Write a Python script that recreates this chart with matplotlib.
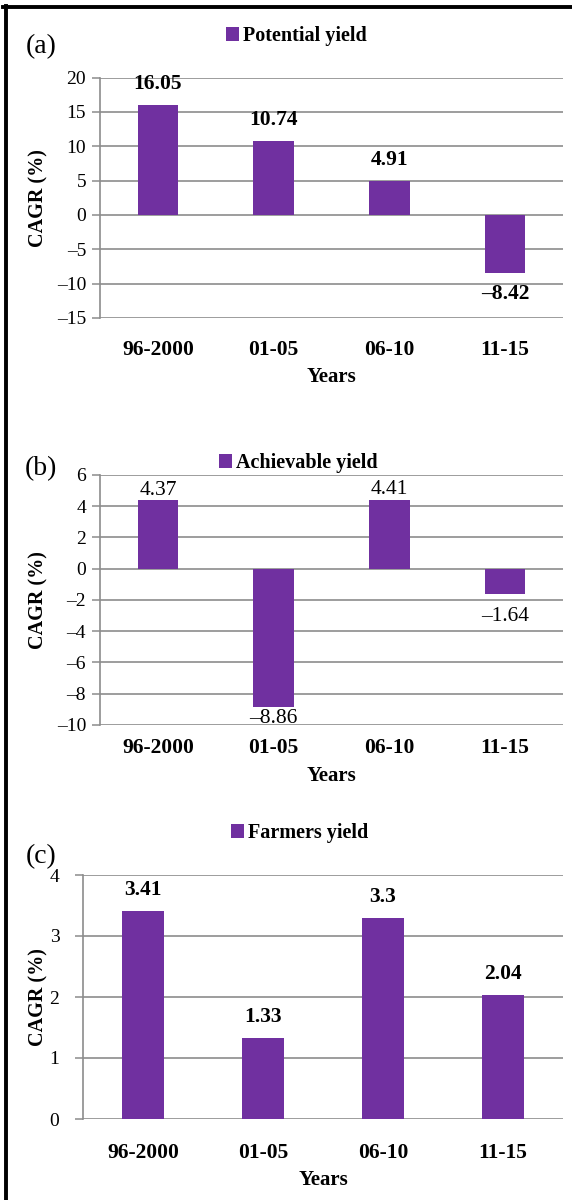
import matplotlib
matplotlib.use("Agg")
import matplotlib.pyplot as plt
from matplotlib.lines import Line2D

plt.rcParams['font.family'] = ['Liberation Serif', 'DejaVu Serif']

categories = ["96-2000", "01-05", "06-10", "11-15"]
potential = [16.05, 10.74, 4.91, -8.42]
achievable = [4.37, -8.86, 4.41, -1.64]
farmers = [3.41, 1.33, 3.3, 2.04]

ticks_a = [-15, -10, -5, 0, 5, 10, 15, 20]
ticks_b = [-10, -8, -6, -4, -2, 0, 2, 4, 6]
ticks_c = [0, 1, 2, 3, 4]

BAR = "#7030A0"
GRID = "#8c8c8c"
W, H = 572, 1200
fig = plt.figure(figsize=(W / 100, H / 100), dpi=100)


def fmt(v):
    s = f"{v:g}"
    return s.replace("-", "\u2013")


def panel(rect_px, values, ticks, name, letter, leg_xy, letter_xy, bold_vals,
          offsets, xt_pad, years_y, ylab_x, ytick_pad):
    left, right, top, bottom = rect_px
    ax = fig.add_axes([left / W, 1 - bottom / H, (right - left) / W, (bottom - top) / H])
    x = range(len(categories))
    ax.bar(x, values, width=0.35, color=BAR, zorder=3, label=name)
    ax.set_xlim(-0.5, len(categories) - 0.5)
    ax.set_ylim(ticks[0], ticks[-1])
    ax.set_yticks(ticks)
    ax.set_yticklabels([fmt(t) for t in ticks], fontsize=14)
    ax.set_xticks(list(x))
    ax.set_xticklabels(categories, fontsize=15.5, fontweight='bold')
    ax.tick_params(axis='x', length=0, pad=xt_pad)
    ax.tick_params(axis='y', length=6, width=1.1, color=GRID, pad=ytick_pad)
    for s in ['top', 'right', 'bottom']:
        ax.spines[s].set_visible(False)
    ax.spines['left'].set_color(GRID)
    ax.spines['left'].set_linewidth(1.2)
    ax.grid(axis='y', color=GRID, linewidth=1.2, zorder=0)
    ax.set_axisbelow(True)
    ax.set_xlabel("Years", fontsize=15, fontweight='bold')
    ax.xaxis.set_label_coords(0.5, -(years_y - bottom) / (bottom - top))
    ax.xaxis.label.set_va('center')
    ax.set_ylabel("CAGR (%)", fontsize=14.5, fontweight='bold')
    ax.yaxis.set_label_coords((ylab_x - left) / (right - left), 0.5)
    ax.yaxis.label.set_va('center')
    for i, v in enumerate(values):
        ax.annotate(fmt(v), (i, v), xytext=(0, offsets[i]), textcoords='offset pixels',
                    ha='center', va='center', fontsize=15.5,
                    fontweight='bold' if bold_vals else 'normal', zorder=4)
    ax.legend(loc='center', bbox_to_anchor=(leg_xy[0] / W, 1 - leg_xy[1] / H),
              bbox_transform=fig.transFigure, frameon=False,
              handlelength=0.65, handleheight=0.65, handletextpad=0.2,
              prop={'weight': 'bold', 'size': 14.5})
    fig.text(letter_xy[0] / W, 1 - letter_xy[1] / H, letter, fontsize=20,
             ha='center', va='center')
    return ax


panel((100, 563, 77.5, 318), potential, ticks_a, "Potential yield", "(a)",
      (296, 36), (41, 47), True,
      [21 if v > 0 else -21 for v in potential], 16, 377, 38, 4)
panel((100, 563, 475, 725), achievable, ticks_b, "Achievable yield", "(b)",
      (298, 463), (41, 469), False,
      [10, -11, 10, -22], 9.5, 776, 38, 4)
panel((83, 563, 875, 1119), farmers, ticks_c, "Farmers yield", "(c)",
      (300, 833), (41, 857), True,
      [21, 21, 21, 21], 17, 1180, 38, 11)

# frame lines (top and left border)
fig.add_artist(Line2D([3 / W, 1], [1 - 7 / H, 1 - 7 / H], color='black', linewidth=2.8,
                      transform=fig.transFigure))
fig.add_artist(Line2D([6 / W, 6 / W], [0, 1 - 5.6 / H], color='black', linewidth=2.8,
                      transform=fig.transFigure))

fig.savefig("out.png", dpi=100)
